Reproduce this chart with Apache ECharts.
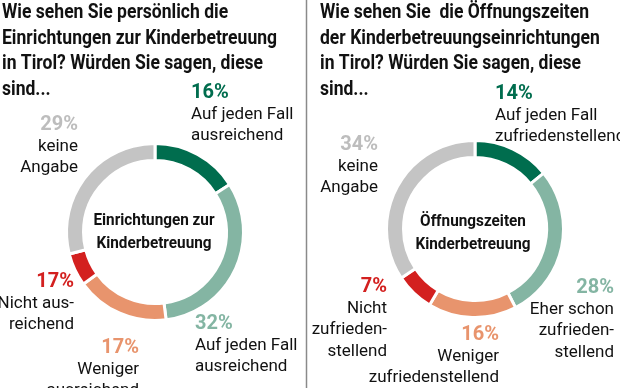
<!DOCTYPE html>
<html><head><meta charset="utf-8">
<script src="https://cdn.jsdelivr.net/npm/echarts@6/dist/echarts.min.js"></script>
<style>html,body{margin:0;padding:0;background:#fff}#c{width:620px;height:388px}</style>
</head><body><div id="c"></div>
<script>
// ---- data ----
const leftTitle = "Wie sehen Sie persönlich die\nEinrichtungen zur Kinderbetreuung\nin Tirol? Würden Sie sagen, diese\nsind...";
const rightTitle = "Wie sehen Sie  die Öffnungszeiten\nder Kinderbetreuungseinrichtungen\nin Tirol? Würden Sie sagen, diese\nsind...";
const leftCenter = "Einrichtungen zur\nKinderbetreuung";
const rightCenter = "Öffnungszeiten\nKinderbetreuung";
const leftCategories = ["Auf jeden Fall\nausreichend", "Auf jeden Fall\nausreichend", "Weniger\nausreichend", "Nicht aus-\nreichend", "keine\nAngabe"];
const leftValues = [16, 32, 17, 6, 29];
const leftPctLabels = ["16%", "32%", "17%", "17%", "29%"];
const rightCategories = ["Auf jeden Fall\nzufriedenstellend", "Eher schon\nzufrieden-\nstellend", "Weniger\nzufriedenstellend", "Nicht\nzufrieden-\nstellend", "keine\nAngabe"];
const rightValues = [14, 28, 16, 7, 34];
const rightPctLabels = ["14%", "28%", "16%", "7%", "34%"];

// ---- style ----
const colors = ["#006d4e", "#84b5a3", "#e8946d", "#d3201f", "#c4c4c4"];
const pctColors = ["#006d4e", "#84b5a3", "#e8946d", "#d3201f", "#bdbdbd"];
const FONT = 'Roboto, "Liberation Sans", sans-serif';
// label anchor positions [x, top, align] per chart
const leftLabelPos = [[191, 82, 'left'], [195, 313, 'left'], [139, 337, 'right'], [74, 271, 'right'], [78, 114, 'right']];
const rightLabelPos = [[495, 83, 'left'], [614, 277, 'right'], [499, 324, 'right'], [387, 276, 'right'], [378, 134, 'right']];

function buildData(cats, vals, pcts) {
  return cats.map((c, i) => ({
    name: c, value: vals[i],
    itemStyle: { color: colors[i] },
    label: { formatter: '{p|' + pcts[i] + '}\n' + c.split('\n').map(s => '{t|' + s + '}').join('\n'),
             rich: { p: { color: pctColors[i], fontWeight: 'bold', fontSize: 20, lineHeight: 21.5, fontFamily: FONT },
                     t: { color: '#111', fontSize: 17, lineHeight: 21.5, fontFamily: FONT } } }
  }));
}
function pieSeries(center, cats, vals, pcts, pos) {
  return {
    type: 'pie', center: center, radius: [71.5, 88.5], startAngle: 90, clockwise: true,
    silent: true, animation: false,
    itemStyle: { borderColor: '#fff', borderWidth: 3 },
    label: { show: true, position: 'outside', overflow: 'none', alignTo: 'none' },
    labelLine: { show: false },
    labelLayout: function (p) {
      const q = pos[p.dataIndex];
      return { x: q[0], y: q[1], align: q[2], verticalAlign: 'top', hideOverlap: false, moveOverlap: false };
    },
    data: buildData(cats, vals, pcts)
  };
}
function condensedText(x, y, text, font, lh, sx, align) {
  return { type: 'text', x: x, y: y, scaleX: sx, silent: true,
           style: { text: text, font: font, lineHeight: lh, fill: '#111', textAlign: align || 'left', textVerticalAlign: 'top' } };
}

const chart = echarts.init(document.getElementById('c'), null, { renderer: 'canvas' });
chart.setOption({
  backgroundColor: '#fff',
  graphic: [
    { type: 'line', silent: true, shape: { x1: 306.5, y1: 0, x2: 306.5, y2: 388 }, style: { stroke: '#8a8a8a', lineWidth: 1.5 } },
    condensedText(2, 0.5, leftTitle, 'bold 20px ' + FONT, 25.5, 0.877),
    condensedText(320, 0.5, rightTitle, 'bold 20px ' + FONT, 25.5, 0.877),
    condensedText(154, 209.5, leftCenter, 'bold 17px ' + FONT, 23, 0.9, 'center'),
    condensedText(473, 209.5, rightCenter, 'bold 17px ' + FONT, 23.5, 0.9, 'center')
  ],
  series: [
    pieSeries([155, 232], leftCategories, leftValues, leftPctLabels, leftLabelPos),
    pieSeries([475, 229], rightCategories, rightValues, rightPctLabels, rightLabelPos)
  ]
});
</script></body></html>
